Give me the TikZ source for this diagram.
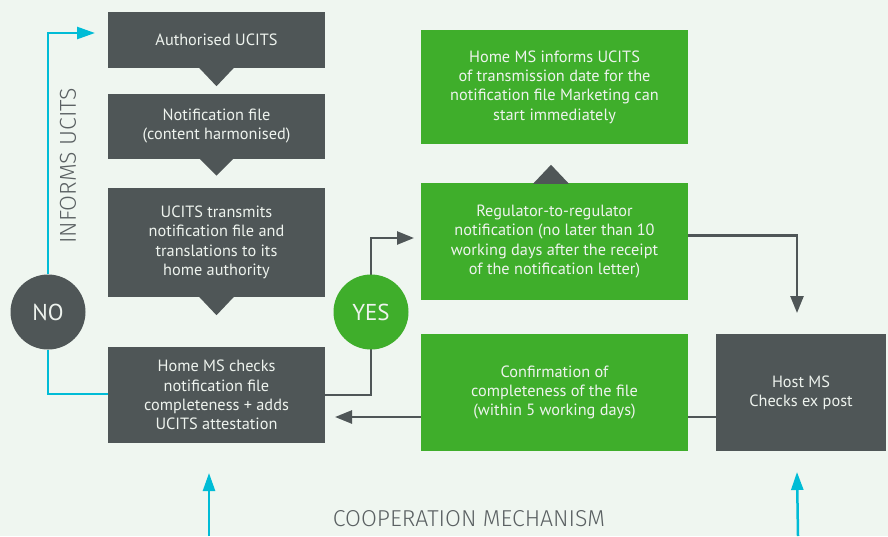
\documentclass[tikz,border=0pt]{standalone}
\usepackage{fontspec}
\setmainfont{PT Sans}
\newfontfamily\lightfont[UprightFont=* Light]{Fira Sans}
\usetikzlibrary{arrows.meta}
\definecolor{bg}{HTML}{EFF6F0}
\definecolor{dgray}{HTML}{4F5657}
\definecolor{mgreen}{HTML}{3FAE2B}
\definecolor{cyanc}{HTML}{00BCD6}
\definecolor{txt}{HTML}{EEF3EE}
\definecolor{lbl}{HTML}{5B6163}
\pgfdeclarelayer{bgl}
\pgfdeclarelayer{lines}
\pgfsetlayers{bgl,lines,main}
\begin{document}
\begin{tikzpicture}[x=1pt,y=-1pt,
  box/.style={fill=dgray, text=txt, align=center, inner sep=0pt, font=\fontsize{16.3}{19.3}\selectfont},
  gbox/.style={box, fill=mgreen},
  circ/.style={circle, minimum size=75pt, inner sep=0pt, text=txt, font=\fontsize{23}{26}\selectfont},
  gline/.style={draw=dgray, line width=2.5pt},
  cline/.style={draw=cyanc, line width=2.5pt},
  gtip/.style={-{Triangle[length=17pt,width=13pt]}},
  ctip/.style={-{Triangle[length=18pt,width=12pt]}},
  tri/.style={fill=dgray},
  lab/.style={text=lbl, font=\lightfont\fontsize{23}{26}\selectfont, inner sep=0pt}
  ]
\begin{pgfonlayer}{bgl}
\fill[bg] (0,0) rectangle (888,536);
\end{pgfonlayer}
\useasboundingbox (0,0) rectangle (888,536);

% left column
\node[box, minimum width=217pt, minimum height=56pt] (auth) at (216.5,40) {Authorised UCITS};
\node[box, minimum width=217pt, minimum height=65pt] (notif) at (216.5,126) {Notification file\\(content harmonised)};
\node[box, minimum width=217pt, minimum height=109pt] (trans) at (216.5,242.5) {UCITS transmits\\notification file and\\translations to its\\home authority};
\node[box, minimum width=217pt, minimum height=96pt] (home) at (216.5,395) {Home MS checks\\notification file\\completeness + adds\\UCITS attestation};

% green column
\node[gbox, minimum width=267pt, minimum height=114pt] (inform) at (554.5,87) {Home MS informs UCITS\\of transmission date for the\\notification file Marketing can\\start immediately};
\node[gbox, minimum width=267pt, minimum height=117pt] (reg) at (554.5,241.5) {Regulator-to-regulator\\notification (no later than 10\\working days after the receipt\\of the notification letter)};
\node[gbox, minimum width=267pt, minimum height=117pt] (conf) at (554.5,392.5) {Confirmation of\\completeness of the file\\(within 5 working days)};
\node[box, minimum width=170pt, minimum height=117pt] (host) at (801,392.5) {Host MS\\Checks ex post};

% circles
\node[circ, fill=dgray] (no) at (48,312) {NO};
\node[circ, fill=mgreen] (yes) at (371,312) {YES};

% triangles
\fill[tri] ([xshift=-18pt,yshift=1pt]auth.south) -- ++(36,0) -- ([yshift=-18pt]auth.south) -- cycle;
\fill[tri] ([xshift=-18pt,yshift=1pt]notif.south) -- ++(36,0) -- ([yshift=-17pt]notif.south) -- cycle;
\fill[tri] ([xshift=-18pt,yshift=1pt]trans.south) -- ++(36,0) -- ([yshift=-18pt]trans.south) -- cycle;
\fill[tri] ([xshift=-21.5pt,yshift=-1pt]reg.north) -- ++(36,0) -- ([xshift=-3.5pt,yshift=18pt]reg.north) -- cycle;

% anchor coordinates
\coordinate (regin) at (414,238);
\coordinate (hostin) at (797,313);
\coordinate (homein) at (335,417);
\coordinate (authin) at (95,33);
\coordinate (homel) at (108,394);
\coordinate (lb) at (209,536);
\coordinate (lt) at (209,473);
\coordinate (rb) at (798,536);
\coordinate (rt) at (797,472);

\begin{pgfonlayer}{lines}
\draw[gline,gtip] (home.east) -| (yes.center) |- (regin);
\draw[gline,gtip] ([yshift=6pt]reg.east) -| (hostin);
\draw[gline,gtip] (host.west |- homein) -- (homein);
\draw[cline,ctip] (no.north) |- (authin);
\draw[cline] (no.south) |- (homel);
\draw[cline,ctip] (lb) -- (lt);
\draw[cline,ctip] (rb) -- (rt);
\end{pgfonlayer}

% labels
\node[lab, rotate=90] (informs) at (68,166) {INFORMS UCITS};
\node[lab] (coop) at (469,519) {COOPERATION MECHANISM};
\end{tikzpicture}
\end{document}
